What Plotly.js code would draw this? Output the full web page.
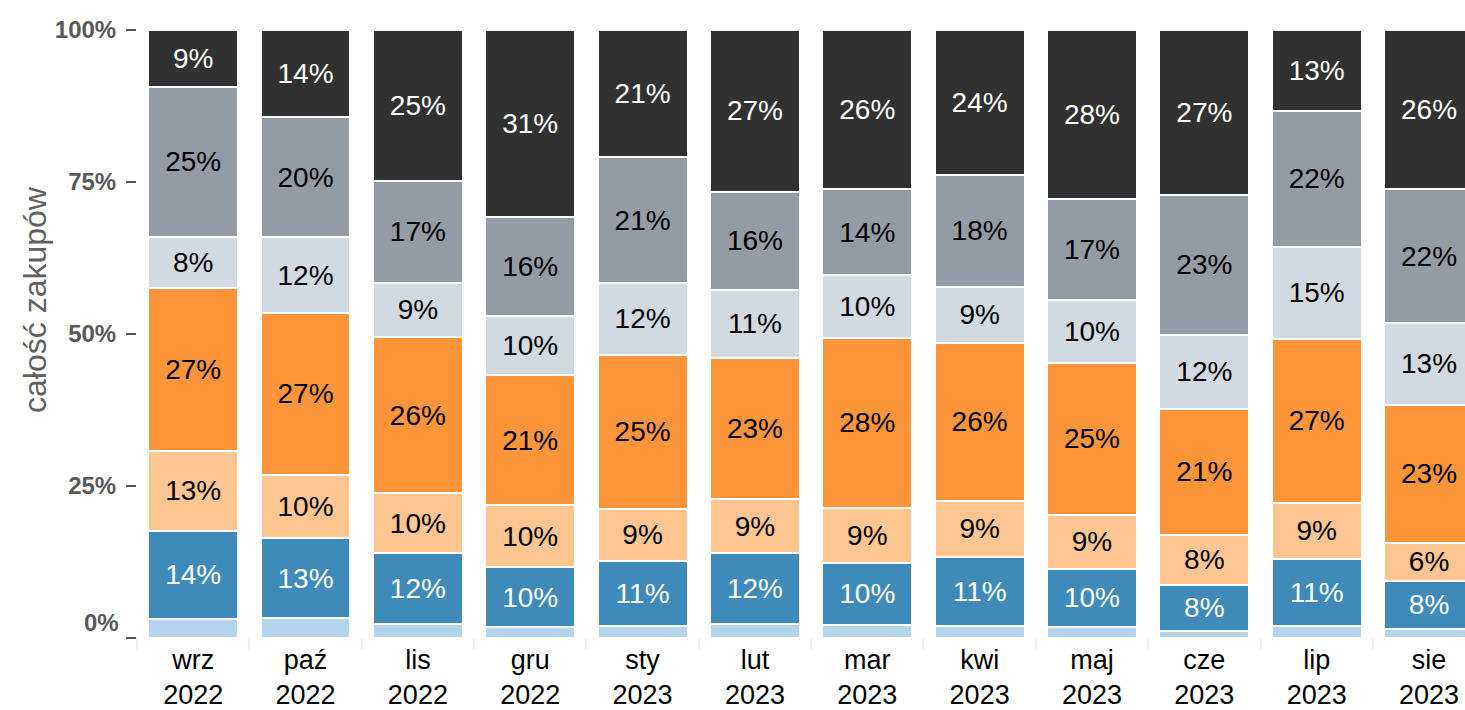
<!DOCTYPE html>
<html>
<head>
<meta charset="utf-8">
<script src="https://cdn.plot.ly/plotly-3.0.1.min.js"></script>
<style>
html,body{margin:0;padding:0;background:#fff;overflow:hidden;}
#chart{width:1465px;height:710px;}
</style>
</head>
<body>
<div id="chart"></div>
<script>
// Categories
const months = ['wrz','paź','lis','gru','sty','lut','mar','kwi','maj','cze','lip','sie'];
const years  = ['2022','2022','2022','2022','2023','2023','2023','2023','2023','2023','2023','2023'];

// Series values (percent of all purchases), bottom to top
const seriesLightBlue  = [3.2, 3.3, 2.3, 1.8, 2.0, 2.3, 2.1, 2.0, 1.8, 1.2, 1.9, 1.5];
const seriesBlue       = [14.4, 13.1, 11.7, 9.8, 10.6, 11.6, 10.3, 11.4, 9.6, 7.6, 11.1, 7.9];
const seriesLightOrange= [13.2, 10.4, 9.8, 10.3, 8.7, 9.0, 9.0, 9.2, 8.9, 8.2, 9.2, 6.3];
const seriesOrange     = [26.8, 26.7, 25.7, 21.3, 25.3, 23.2, 28.0, 26.0, 25.0, 20.7, 27.0, 22.7];
const seriesLightGray  = [8.4, 12.4, 8.9, 9.7, 11.8, 11.2, 10.3, 9.2, 10.3, 12.2, 15.1, 13.4];
const seriesGray       = [24.6, 19.8, 16.8, 16.3, 20.7, 16.1, 14.1, 18.3, 16.6, 23.0, 22.4, 22.0];
const seriesDark       = [9.4, 14.3, 24.8, 30.8, 20.9, 26.6, 26.2, 23.9, 27.8, 27.1, 13.3, 26.2];

// Tick labels
const yTickVals = [0, 25, 50, 75, 100];
const yTickText = ['0%', '25%', '50%', '75%', '100%'];
const yTitle = 'całość zakupów';

const cats = months.map((m, i) => m + '<br>' + years[i]);

const FONT = 'Liberation Sans, Arial, sans-serif';
const specs = [
  {y: seriesLightBlue,   color: '#b4d4ec', txt: null},
  {y: seriesBlue,        color: '#3e8ab9', txt: '#ffffff'},
  {y: seriesLightOrange, color: '#fdc690', txt: '#000000'},
  {y: seriesOrange,      color: '#fb953a', txt: '#000000'},
  {y: seriesLightGray,   color: '#d3d9e1', txt: '#000000'},
  {y: seriesGray,        color: '#959ba4', txt: '#000000'},
  {y: seriesDark,        color: '#313131', txt: '#ffffff'}
];

const traces = specs.map(s => {
  const t = {
    type: 'bar',
    x: cats,
    y: s.y,
    marker: {color: s.color, line: {color: '#ffffff', width: 2}},
    hoverinfo: 'skip',
    showlegend: false
  };
  if (s.txt) {
    t.texttemplate = '%{y:.0f}%';
    t.textposition = 'inside';
    t.insidetextanchor = 'middle';
    t.textangle = 0;
    t.textfont = {family: FONT, size: 28, color: s.txt};
  } else {
    t.textposition = 'none';
  }
  return t;
});

const layout = {
  width: 1465,
  height: 710,
  margin: {l: 137, r: 0, t: 30, b: 72, pad: 0},
  paper_bgcolor: '#ffffff',
  plot_bgcolor: '#ffffff',
  barmode: 'stack',
  bargap: 0.2,
  font: {family: FONT},
  xaxis: {
    type: 'category',
    range: [-0.5, 11.32],
    showgrid: false,
    showline: false,
    zeroline: false,
    ticks: 'outside',
    tickson: 'boundaries',
    ticklen: 10,
    tickwidth: 2,
    tickcolor: '#eeeeee',
    ticklabelstandoff: 3,
    tickfont: {family: FONT, size: 27, color: '#000000'},
    fixedrange: true
  },
  yaxis: {
    range: [0, 100],
    showgrid: false,
    showline: false,
    zeroline: false,
    tickvals: yTickVals,
    ticktext: yTickText.map((t, i) => i === 0 ? '' : t),
    ticks: 'outside',
    ticklen: 10,
    tickwidth: 1.5,
    tickcolor: '#555555',
    ticklabelstandoff: 5,
    tickfont: {family: FONT, size: 24, color: '#595959', weight: 'bold'},
    fixedrange: true
  },
  annotations: [
    {
      xref: 'paper', yref: 'y', x: 0, y: yTickVals[0],
      text: yTickText[0], showarrow: false,
      xanchor: 'right', yanchor: 'middle', xshift: -16, yshift: 16,
      font: {family: FONT, size: 24, color: '#595959', weight: 'bold'}
    },
    {
      xref: 'paper', yref: 'paper', x: 0, y: 0.556,
      text: yTitle, showarrow: false, textangle: -90,
      xanchor: 'center', yanchor: 'middle', xshift: -102,
      font: {family: FONT, size: 32, color: '#606060'}
    }
  ]
};

Plotly.newPlot('chart', traces, layout, {staticPlot: true, displayModeBar: false});
</script>
</body>
</html>
